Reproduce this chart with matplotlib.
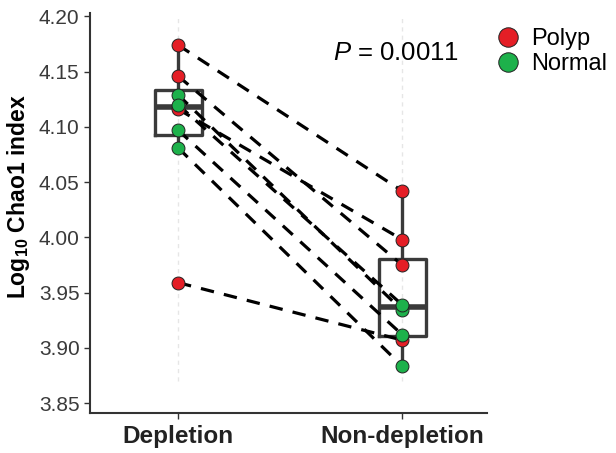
import matplotlib
matplotlib.use("Agg")
import matplotlib.pyplot as plt
from matplotlib.lines import Line2D

# ── Data ──────────────────────────────────────────────────────────────────────
groups        = ["Depletion", "Non-depletion"]
tissue        = ["Polyp", "Polyp", "Polyp", "Polyp", "Normal", "Normal", "Normal", "Normal"]
depletion     = [4.174, 4.146, 4.116, 3.959, 4.129, 4.120, 4.097, 4.081]
non_depletion = [4.042, 3.975, 3.998, 3.907, 3.934, 3.939, 3.912, 3.8835]
p_text        = "0.0011"
yticks        = [3.85, 3.90, 3.95, 4.00, 4.05, 4.10, 4.15, 4.20]

# ── Style ─────────────────────────────────────────────────────────────────────
plt.rcParams["font.family"] = ["Liberation Sans", "DejaVu Sans"]
plt.rcParams["mathtext.fontset"] = "custom"
plt.rcParams["mathtext.rm"] = "Liberation Sans"
plt.rcParams["mathtext.it"] = "Liberation Sans:italic"
plt.rcParams["mathtext.bf"] = "Liberation Sans:bold"

COLORS   = {"Polyp": "#E41E26", "Normal": "#1DB14B"}
DARK     = "#3a3a3a"
AXCOL    = "#333333"

fig = plt.figure(figsize=(6.16, 4.53), dpi=100)
ax = fig.add_axes([90 / 616, 1 - 413 / 453, (487 - 90) / 616, (413 - 13) / 453])

xpos = [1, 2]

# faint guide lines
ax.vlines(xpos, 3.87, 4.20, colors="#e6e6e6", linestyles=(0, (3, 3)), lw=1, zorder=0)

# boxes
bp = ax.boxplot([depletion, non_depletion], positions=xpos, widths=0.21,
                whis=1.5, showfliers=False, patch_artist=False,
                boxprops=dict(color=DARK, lw=2.4),
                whiskerprops=dict(color=DARK, lw=2.4),
                capprops=dict(lw=0),
                medianprops=dict(color=DARK, lw=4),
                zorder=1)

# paired dashed lines
for a, b in zip(depletion, non_depletion):
    ax.plot(xpos, [a, b], color="black", lw=2.3, linestyle=(0, (4.2, 3.2)),
            dash_capstyle="butt", zorder=2)

# points
for vals, x in zip([depletion, non_depletion], xpos):
    for v, t in zip(vals, tissue):
        ax.plot(x, v, "o", ms=9.3, mfc=COLORS[t], mec="#222222", mew=0.7, zorder=3)

ax.text(1.69, 4.1665, r"$\mathit{P}$ = " + p_text, fontsize=18.5, ha="left",
        va="center", color="black")

ax.set_xlim(0.607, 2.379)
ax.set_ylim(3.841, 4.203)
ax.set_xticks(xpos)
ax.set_xticklabels(groups, fontsize=17.5, fontweight="bold", color="#222222")
ax.set_yticks(yticks)
ax.set_yticklabels([f"{v:.2f}" for v in yticks], fontsize=15, color="#3a3a3a")
ax.set_ylabel(r"$\mathbf{Log_{10}\ Chao1\ index}$", fontsize=16.5)
ax.yaxis.set_label_coords(-0.145, 0.54)

for side in ("top", "right"):
    ax.spines[side].set_visible(False)
for side in ("left", "bottom"):
    ax.spines[side].set_color(AXCOL)
    ax.spines[side].set_linewidth(1.5)
ax.tick_params(axis="both", color=AXCOL, length=4, width=1)
ax.tick_params(axis="x", pad=5)

handles = [Line2D([], [], marker="o", ls="", ms=14, mfc=COLORS[k], mec="#222222", mew=0.7)
           for k in ("Polyp", "Normal")]
fig.legend(handles, ["Polyp", "Normal"], loc="upper left",
           bbox_to_anchor=(496 / 616, 1 - 28 / 453), frameon=False,
           fontsize=17, handlelength=1.0, handletextpad=0.5, labelspacing=0.12,
           borderpad=0, borderaxespad=0)

fig.savefig("out.png", dpi=100)
